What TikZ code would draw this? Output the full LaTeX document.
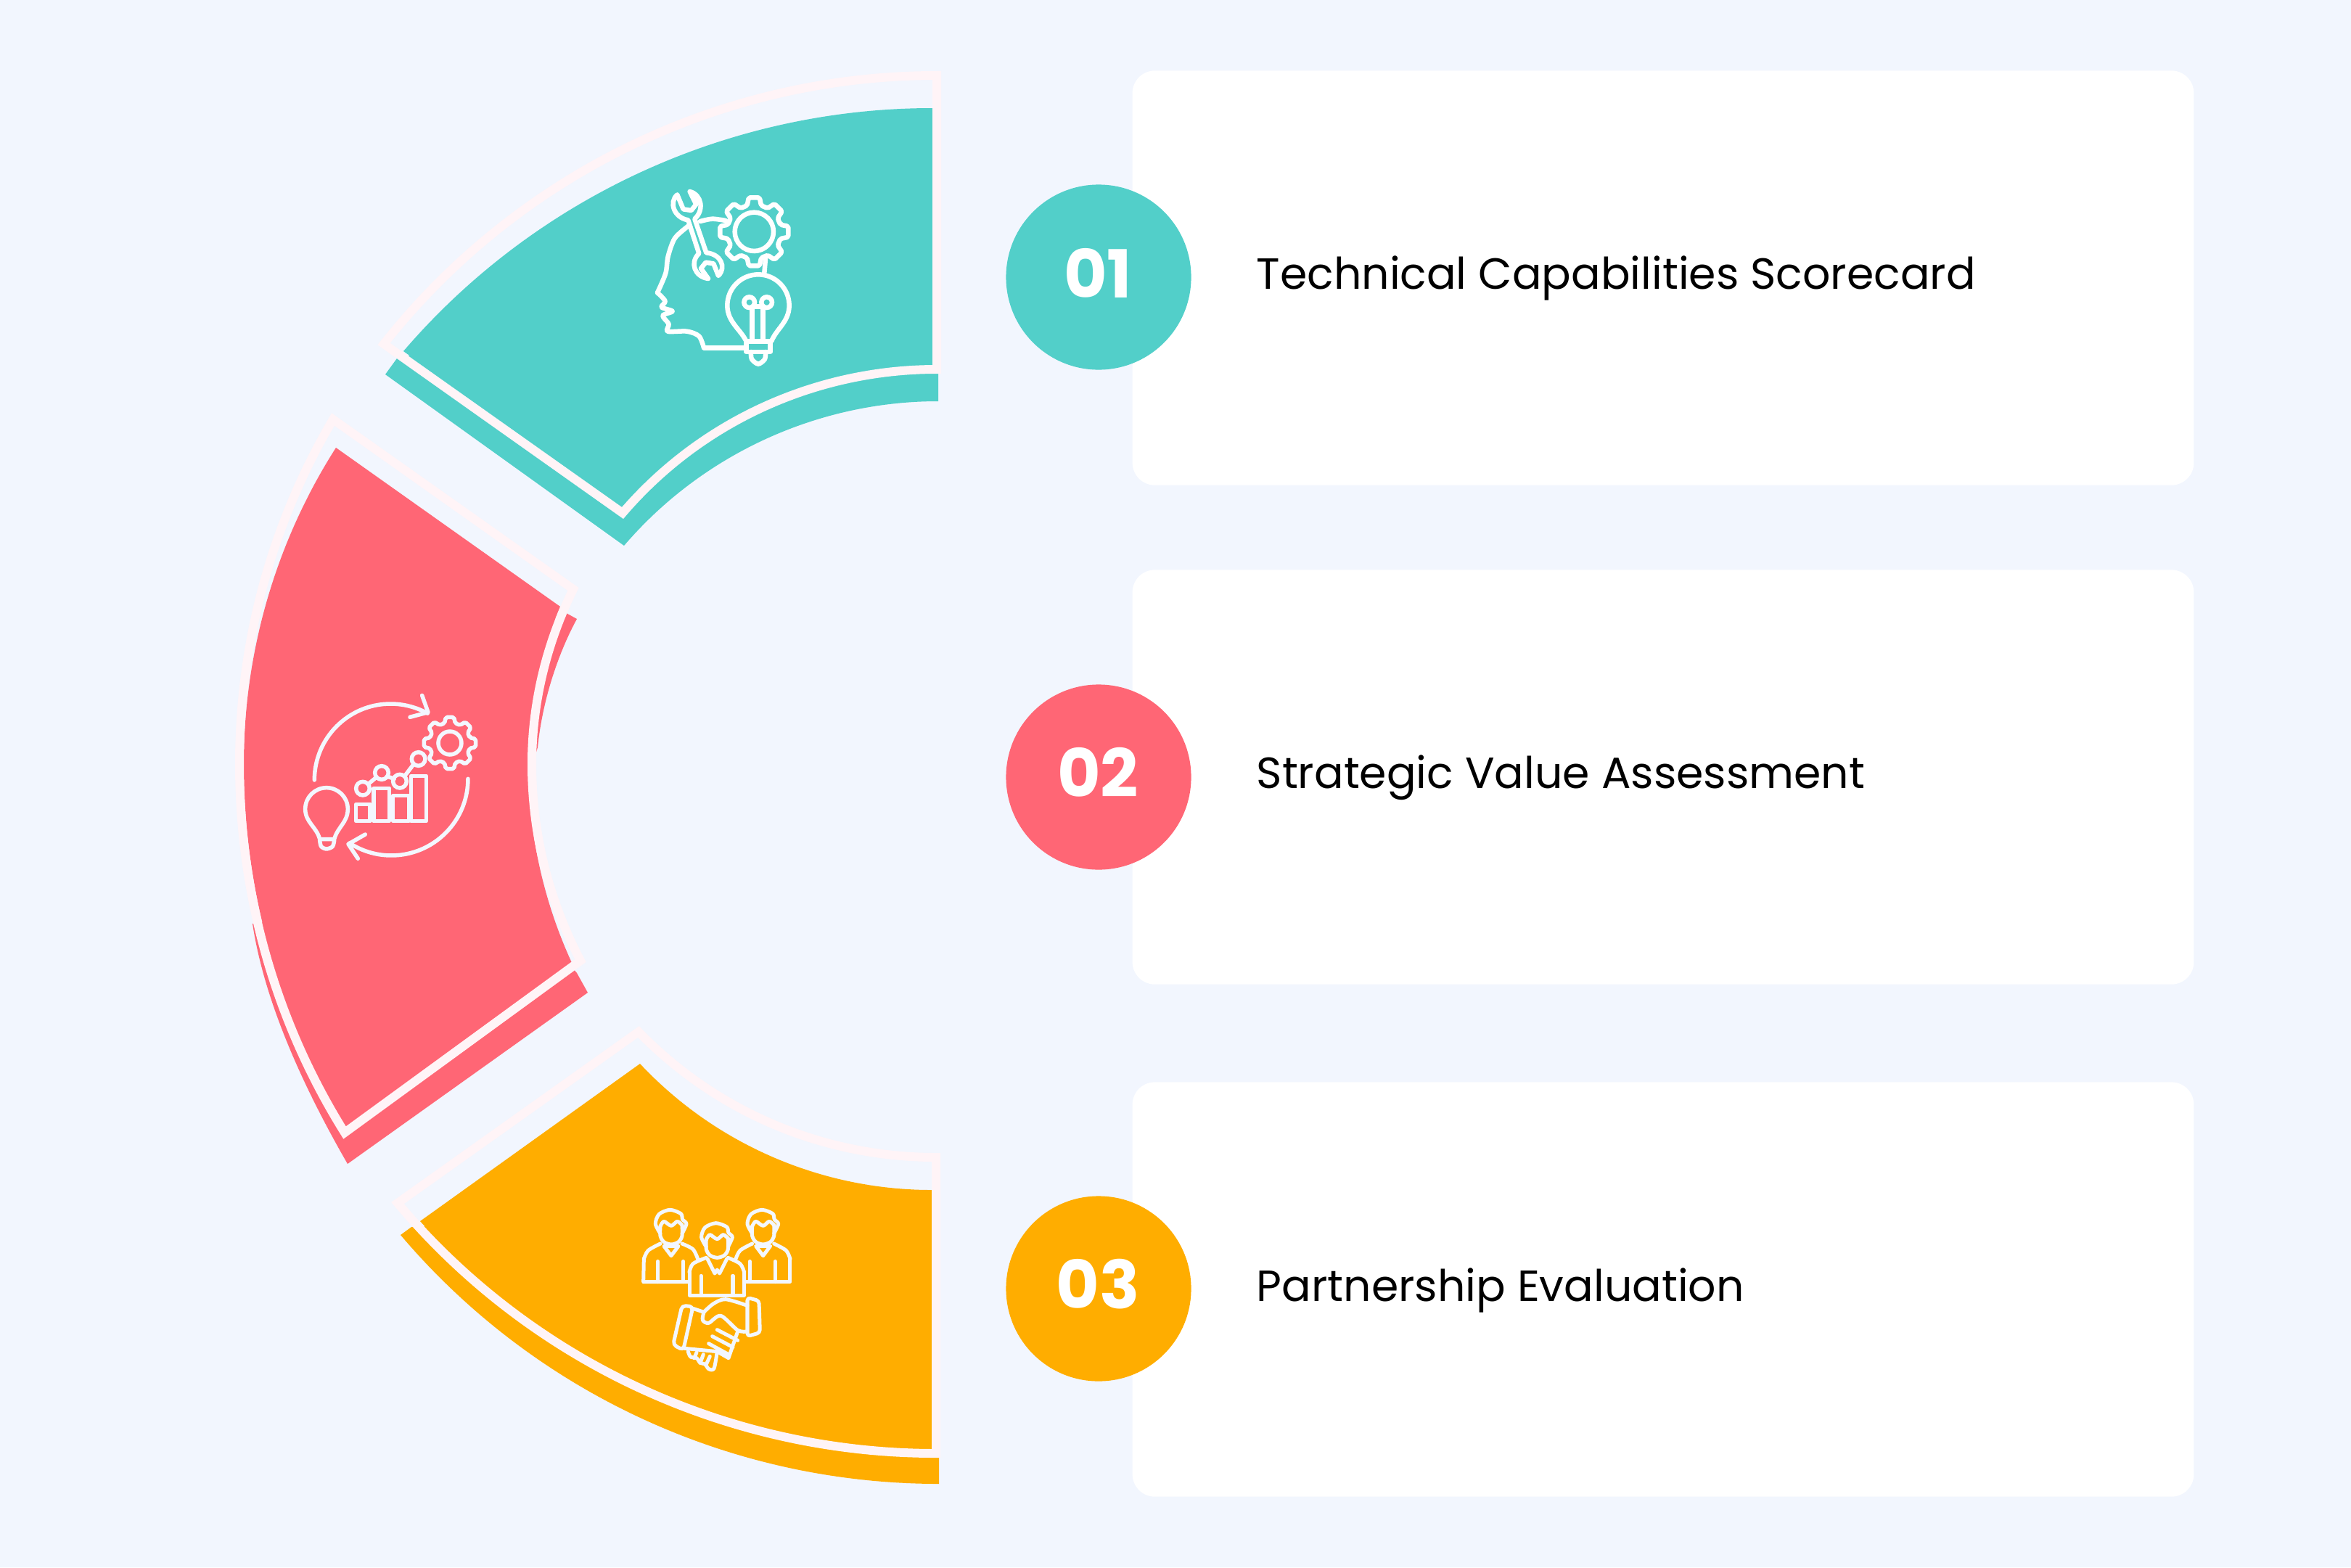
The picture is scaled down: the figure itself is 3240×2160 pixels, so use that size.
\documentclass[tikz,border=0pt]{standalone}
\usepackage{fontspec}
\usepackage{xcolor}
\usepackage{tikz}
\setmainfont{Poppins}
\definecolor{pagebg}{HTML}{F2F6FE}
\definecolor{rimpale}{HTML}{FFF4F7}
\definecolor{tealseg}{HTML}{52CFC9}
\definecolor{redseg}{HTML}{FF6675}
\definecolor{amberseg}{HTML}{FFAD00}
\definecolor{inkline}{HTML}{F3F7FF}
\tikzset{
  rim/.style={draw=rimpale, line width=0.12cm, line join=miter},
  iconline/.style={draw=#1, line cap=round, line join=round, fill=none},
  card/.style={fill=white, rounded corners=0.31cm, minimum width=14.62cm, minimum height=5.71cm, inner sep=0pt},
  numdisc/.style={circle, fill=#1, minimum size=2.55cm, inner sep=0pt},
  numtext/.style={anchor=base, text=white, inner sep=0pt, font=\fontsize{26}{28}\selectfont\bfseries},
  captext/.style={anchor=base west, text=black, inner sep=0pt, font=\fontsize{17.1}{20}\selectfont}
}
% draws a gear around the origin of the current scope
\newcommand{\gearpath}[3]{%
  \draw[iconline=#1, rounded corners=0.02cm] (-15:#2) \foreach \a in {0,45,...,315} {
    -- (\a-15:#2) -- (\a-9:#3) -- (\a+9:#3) -- (\a+15:#2)} -- cycle;}
% head of one person, origin at the left figure of the group
\newcommand{\personhead}{%
  \draw[iconline=inkline] plot[smooth] coordinates {(150,180) (130,140) (145,100) (190,82) (235,98) (242,122) (258,140) (240,180)};
  \draw[iconline=inkline] plot[smooth] coordinates {(150,150) (150,190) (165,215) (195,225) (225,215) (240,190) (240,145)};
  \draw[iconline=inkline] plot[smooth] coordinates {(150,150) (165,130) (195,148) (220,130) (240,145)};}

\begin{document}
\begin{tikzpicture}[x=0.01cm, y=-0.01cm]
      \useasboundingbox (0,0) rectangle (3240,2160);
      \fill[pagebg] (0,0) rectangle (3240,2160);

      % teal segment
      \fill[tealseg] (1280,490) -- (1293,505) -- (1293,553) .. controls (1127,553) and (968,626) .. (860,752) -- (531,516) -- (547,494) -- (565,490) -- cycle;
      \fill[tealseg] (1285,149) .. controls (1005,149) and (738,272) .. (556,484) -- (857,699) .. controls (964,574) and (1121,502) .. (1285,502) -- cycle;
      \draw[rim] (1291,104) .. controls (994,104) and (713,241) .. (529,474) -- (858,707) .. controls (966,581) and (1124,509) .. (1291,509) -- cycle;

      % red segment
      \fill[redseg] (775,842) -- (795,853) .. controls (772,895) and (748,960) .. (741,1030) -- (720,1100) -- (760,1300) -- (795,1341) -- (810,1368) -- (479,1604) .. controls (422,1505) and (365,1385) .. (348,1273) -- (400,1266) -- cycle;
      \fill[redseg] (463,617) .. controls (380,747) and (336,899) .. (336,1053) .. controls (336,1229) and (385,1401) .. (478,1551) -- (789,1329) .. controls (749,1243) and (728,1148) .. (728,1053) .. controls (728,979) and (743,904) .. (772,836) -- cycle;
      \draw[rim] (459,578) .. controls (374,722) and (330,886) .. (330,1053) .. controls (330,1233) and (380,1409) .. (475,1561) -- (800,1324) .. controls (756,1240) and (733,1148) .. (733,1053) .. controls (733,969) and (753,887) .. (790,812) -- cycle;

      % amber segment
      \fill[amberseg] (590,1690) -- (567,1691) -- (552,1702) .. controls (737,1920) and (1008,2045) .. (1294,2045) -- (1294,2005) -- (1284,1990) -- cycle;
      \fill[amberseg] (882,1466) .. controls (986,1577) and (1132,1640) .. (1284,1640) -- (1284,1994) .. controls (1016,1994) and (760,1881) .. (579,1683) -- cycle;
      \draw[rim] (880,1422) .. controls (988,1533) and (1135,1595) .. (1290,1595) -- (1290,2003) .. controls (1004,2003) and (732,1877) .. (548,1658) -- cycle;

      % cards, discs, texts
      \node[card] (Card1) at (2292,383) {};
      \node[card] (Card2) at (2292,1071) {};
      \node[card] (Card3) at (2292,1777) {};
      \node[numdisc=tealseg] (Disc1) at (1514,382) {};
      \node[numdisc=redseg] (Disc2) at (1514,1071) {};
      \node[numdisc=amberseg] (Disc3) at (1514,1776) {};
      \node[numtext] (Num1) at (1513,410) {01};
      \node[numtext] (Num2) at (1513,1098) {02};
      \node[numtext] (Num3) at (1513,1803) {03};
      \node[captext] (Cap1) at (1731,398) {Technical Capabilities Scorecard};
      \node[captext] (Cap2) at (1731,1086) {Strategic Value Assessment};
      \node[captext] (Cap3) at (1731,1793) {Partnership Evaluation};

      % head with wrench, gear and bulb
      \begin{scope}[shift={(880,240)}, scale=0.3333, line width=0.065cm]
        \begin{scope}[shift={(478,238)}]
          \gearpath{white}{112}{143}
          \draw[white] (0,0) circle (80);
        \end{scope}
        \draw[iconline=white] plot[smooth] coordinates {(205,215) (150,265) (122,340) (112,410) (78,490)};
        \draw[iconline=white] plot[smooth] coordinates {(78,490) (110,525) (95,550) (140,567) (100,585) (125,620) (120,650) (200,650) (250,670) (270,718)};
        \draw[iconline=white] (270,718) -- (440,718);
        \draw[iconline=white] plot[smooth] coordinates {(255,195) (305,185) (360,192)};
        \draw[iconline=white] (160,85) -- (185,145) -- (218,150) -- (238,125) -- (212,72) .. controls (262,85) and (272,150) .. (232,185) -- (280,325) .. controls (340,330) and (365,385) .. (330,420) -- (310,370) -- (278,365) -- (258,390) -- (288,432) .. controls (232,425) and (210,365) .. (250,328) -- (205,190) .. controls (145,180) and (125,115) .. (160,85) -- cycle;
        \draw[iconline=white] (525,350) -- (520,410);
        \draw[iconline=white] (445,690) .. controls (420,640) and (367,610) .. (367,543) arc[start angle=180, end angle=360, radius=128] .. controls (623,610) and (570,640) .. (550,690);
        \draw[iconline=white] (445,692) rectangle (545,735);
        \draw[iconline=white] plot[smooth] coordinates {(465,735) (468,765) (495,785) (522,765) (525,735)};
        \draw[iconline=white] (470,690) -- (470,550);
        \draw[iconline=white] (515,690) -- (515,550);
        \draw[iconline=white] (480,548) -- (505,548);
        \draw[white] (458,530) circle (22);
        \draw[white] (530,530) circle (22);
      \end{scope}

      % chart between two turning arrows
      \begin{scope}[shift={(400,940)}, scale=0.3333, line width=0.055cm]
        \begin{scope}[shift={(660,252)}]
          \gearpath{inkline}{85}{108}
          \draw[inkline] (0,0) circle (48);
        \end{scope}
        \draw[iconline=inkline] (100,405) arc[start angle=180, end angle=299, radius=315];
        \draw[iconline=inkline] (545,55) -- (570,125) -- (495,145);
        \draw[iconline=inkline] (735,400) arc[start angle=0, end angle=123, radius=317];
        \draw[iconline=inkline] (310,630) -- (240,670) -- (280,730);
        \draw[iconline=inkline] (272,505) rectangle (330,575);
        \draw[iconline=inkline] (345,440) rectangle (410,575);
        \draw[iconline=inkline] (425,470) rectangle (490,575);
        \draw[iconline=inkline] (500,388) rectangle (562,575);
        \draw[inkline] (300,440) circle (28);
        \draw[inkline] (378,375) circle (28);
        \draw[inkline] (453,410) circle (28);
        \draw[inkline] (530,318) circle (28);
        \draw[iconline=inkline] (322,422) -- (357,393);
        \draw[iconline=inkline] (400,390) -- (430,400);
        \draw[iconline=inkline] (472,390) -- (510,340);
        \draw[iconline=inkline] (122,650) .. controls (110,600) and (62,580) .. (62,525) arc[start angle=180, end angle=360, radius=88] .. controls (238,580) and (195,600) .. (182,650) -- cycle;
        \draw[iconline=inkline] plot[smooth] coordinates {(122,655) (128,680) (150,690) (175,680) (182,655)};
      \end{scope}

      % three people above a handshake
      \begin{scope}[shift={(860,1640)}, scale=0.3333, line width=0.05cm]
        \personhead
        \begin{scope}[shift={(190,55)}]
          \personhead
        \end{scope}
        \begin{scope}[shift={(380,0)}]
          \personhead
        \end{scope}
        \draw[iconline=inkline] plot[smooth] coordinates {(150,222) (100,250) (82,285)};
        \draw[iconline=inkline] (82,285) -- (80,380) -- (270,380);
        \draw[iconline=inkline] plot[smooth] coordinates {(240,222) (285,245) (305,285)};
        \draw[iconline=inkline] (165,232) -- (195,272) -- (225,232) -- cycle;
        \draw[iconline=inkline] (140,295) -- (140,380);
        \draw[iconline=inkline] (245,295) -- (245,380);
        \draw[iconline=inkline] plot[smooth] coordinates {(530,222) (480,250) (462,285)};
        \draw[iconline=inkline] plot[smooth] coordinates {(620,222) (670,250) (687,285)};
        \draw[iconline=inkline] (687,285) -- (687,380) -- (497,380);
        \draw[iconline=inkline] (545,232) -- (575,272) -- (605,232) -- cycle;
        \draw[iconline=inkline] (520,295) -- (520,380);
        \draw[iconline=inkline] (625,295) -- (625,380);
        \draw[iconline=inkline] plot[smooth] coordinates {(340,280) (285,305) (270,340)};
        \draw[iconline=inkline] plot[smooth] coordinates {(430,280) (480,305) (497,340)};
        \draw[iconline=inkline] (270,340) -- (270,435) -- (497,435) -- (497,340);
        \draw[iconline=inkline] (345,285) -- (375,345) -- (385,330) -- (395,345) -- (425,285);
        \draw[iconline=inkline] (318,355) -- (318,435);
        \draw[iconline=inkline] (450,355) -- (450,435);
        \draw[iconline=inkline, rounded corners=0.05cm] (240,478) -- (285,482) -- (245,662) -- (203,640) -- cycle;
        \draw[iconline=inkline, rounded corners=0.04cm] (510,445) -- (558,458) -- (562,590) -- (510,605) -- cycle;
        \draw[iconline=inkline] (285,490) -- (330,505);
        \draw[iconline=inkline] plot[smooth] coordinates {(330,505) (370,470) (420,452) (510,478)};
        \draw[iconline=inkline] plot[smooth] coordinates {(330,505) (325,538) (350,550) (400,520) (470,580) (508,585)};
        \draw[iconline=inkline] (470,585) -- (432,695) -- (385,668) -- (250,655);
        \draw[iconline=inkline] (385,578) -- (470,622);
        \draw[iconline=inkline] (365,605) -- (450,650);
        \draw[iconline=inkline] (350,635) -- (432,680);
        \draw[iconline=inkline] plot[smooth] coordinates {(265,668) (275,690) (300,695) (315,715) (335,720) (350,740) (372,738) (385,668)};
        \draw[iconline=inkline] (300,672) -- (290,695);
        \draw[iconline=inkline] (328,680) -- (315,715);
        \draw[iconline=inkline] (355,688) -- (338,725);
      \end{scope}
\end{tikzpicture}
\end{document}
